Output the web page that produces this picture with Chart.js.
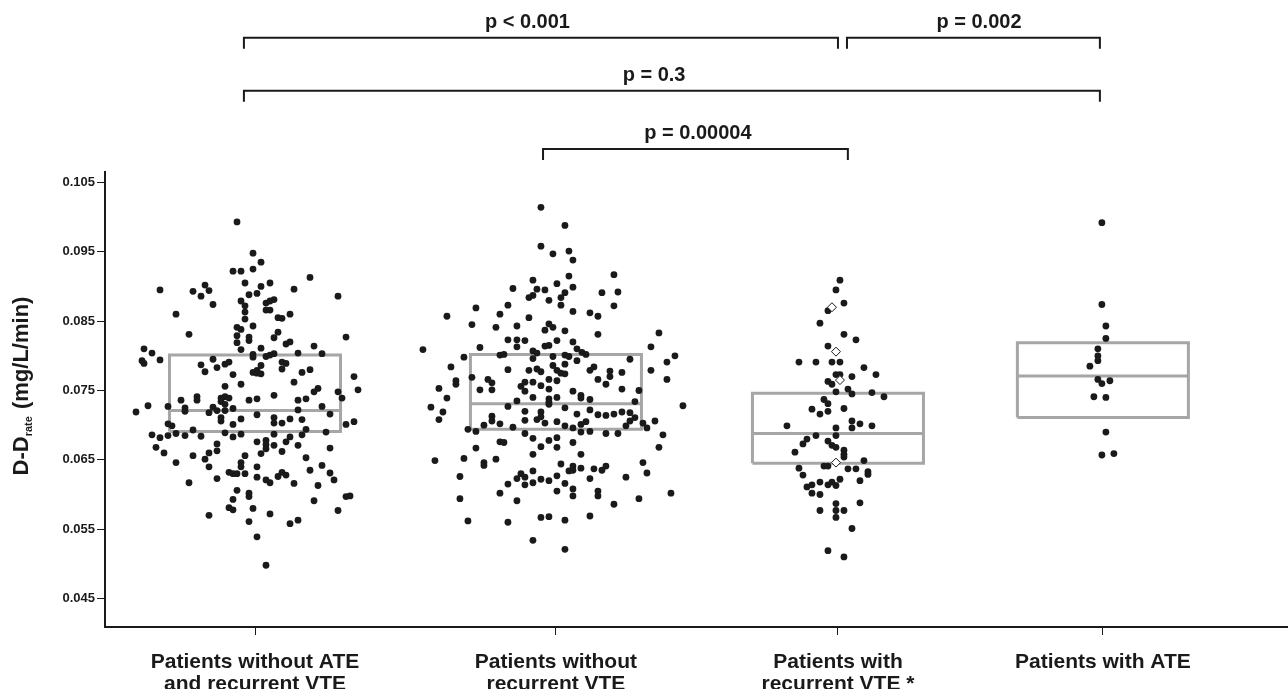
<!DOCTYPE html>
<html>
<head>
<meta charset="utf-8">
<script src="https://cdn.jsdelivr.net/npm/chart.js@4.4.1/dist/chart.umd.min.js"></script>
<style>
  html, body { margin: 0; padding: 0; background: #fff; }
</style>
</head>
<body>
<canvas id="chart" width="1288" height="689"></canvas>
<script>
// categories and where they sit on the (linear) x axis
const categories = [
  ["Patients without ATE", "and recurrent VTE"],
  ["Patients without", "recurrent VTE"],
  ["Patients with", "recurrent VTE *"],
  "Patients with ATE"
];
const catPos = [0.997, 2, 2.94, 3.823];
const yTicks = [0.045, 0.055, 0.065, 0.075, 0.085, 0.095, 0.105];

// box summaries (Q1 / median / Q3) per group
const boxQ1 = [0.0691, 0.0694, 0.0645, 0.0711];
const boxMed = [0.0721, 0.0731, 0.0688, 0.0771];
const boxQ3 = [0.0801, 0.0802, 0.0746, 0.0819];

// points: [jitter, D-D rate]; jitter is in 1/300 of a category step
const grp1 = [
  [-18,0.0993],[-2,0.0948],[6,0.0935],[-22,0.0922],[-14,0.0922],[-2,0.0925],[-10,0.0905],[6,0.0900],[15,0.0905],[-50,0.0902],
  [-46,0.0894],[-54,0.0886],[-62,0.0893],[-95,0.0895],[55,0.0913],[39,0.0896],[83,0.0886],[-6,0.0888],[2,0.0890],[-42,0.0874],
  [-14,0.0879],[-10,0.0872],[-10,0.0863],[-10,0.0853],[11,0.0876],[15,0.0879],[19,0.0881],[11,0.0866],[15,0.0866],[23,0.0855],
  [27,0.0854],[35,0.0860],[-79,0.0860],[-2,0.0843],[-18,0.0841],[-14,0.0838],[23,0.0834],[-66,0.0831],[-18,0.0829],[-6,0.0827],
  [-6,0.0822],[19,0.0826],[91,0.0827],[-18,0.0819],[31,0.0817],[35,0.0820],[-14,0.0809],[6,0.0811],[59,0.0814],[-111,0.0810],
  [-103,0.0804],[43,0.0804],[67,0.0803],[-2,0.0802],[-2,0.0798],[11,0.0799],[15,0.0801],[19,0.0803],[-42,0.0795],[-95,0.0794],
  [-113,0.0793],[-111,0.0789],[-54,0.0787],[-50,0.0777],[-38,0.0783],[-30,0.0788],[-26,0.0791],[27,0.0791],[31,0.0789],[27,0.0781],
  [6,0.0786],[-2,0.0776],[2,0.0775],[6,0.0774],[2,0.0779],[-22,0.0773],[47,0.0776],[55,0.0780],[39,0.0762],[99,0.0770],
  [-30,0.0756],[-14,0.0759],[63,0.0753],[103,0.0751],[83,0.0748],[59,0.0748],[87,0.0739],[-58,0.0741],[-58,0.0736],[-74,0.0736],
  [-34,0.0739],[-30,0.0741],[-26,0.0739],[-34,0.0734],[-30,0.0730],[-6,0.0736],[2,0.0738],[19,0.0743],[43,0.0736],[51,0.0738],
  [-107,0.0728],[-87,0.0727],[-70,0.0725],[-70,0.0720],[-42,0.0726],[-38,0.0721],[-30,0.0721],[-22,0.0724],[-46,0.0718],[43,0.0722],
  [67,0.0727],[75,0.0716],[2,0.0715],[-34,0.0711],[-34,0.0706],[-14,0.0709],[19,0.0711],[19,0.0703],[27,0.0703],[35,0.0709],
  [47,0.0708],[-22,0.0701],[-87,0.0702],[-83,0.0699],[91,0.0701],[99,0.0705],[51,0.0694],[-62,0.0693],[71,0.0690],[-103,0.0686],
  [-95,0.0682],[-87,0.0685],[-79,0.0688],[-70,0.0685],[-54,0.0684],[-30,0.0689],[-22,0.0683],[-14,0.0687],[19,0.0687],[35,0.0683],
  [47,0.0686],[2,0.0676],[11,0.0678],[11,0.0672],[11,0.0666],[19,0.0671],[31,0.0676],[43,0.0671],[75,0.0667],[-38,0.0673],
  [-38,0.0663],[-46,0.0660],[-99,0.0668],[-91,0.0660],[-62,0.0656],[-50,0.0651],[-46,0.0640],[-79,0.0646],[-10,0.0656],[6,0.0659],
  [27,0.0662],[51,0.0653],[-14,0.0646],[-14,0.0640],[2,0.0640],[67,0.0642],[55,0.0635],[75,0.0631],[79,0.0621],[-26,0.0632],
  [-22,0.0630],[-18,0.0630],[-10,0.0630],[-38,0.0623],[2,0.0625],[11,0.0621],[15,0.0617],[23,0.0626],[27,0.0632],[31,0.0628],
  [39,0.0616],[-66,0.0617],[63,0.0613],[-18,0.0606],[-6,0.0602],[-6,0.0597],[-22,0.0593],[59,0.0591],[91,0.0597],[95,0.0598],
  [-26,0.0581],[-22,0.0578],[-2,0.0580],[83,0.0577],[-46,0.0570],[15,0.0572],[-6,0.0561],[35,0.0558],[43,0.0563],[2,0.0539],
  [11,0.0498],[-119,0.0719]
];
const grp2 = [
  [-15,0.1014],[9,0.0988],[-15,0.0958],[-3,0.0947],[13,0.0951],[17,0.0938],[13,0.0915],[-23,0.0909],[1,0.0904],[17,0.0899],
  [58,0.0917],[-43,0.0897],[-19,0.0896],[-11,0.0895],[9,0.0891],[5,0.0884],[46,0.0891],[62,0.0892],[-27,0.0884],[-23,0.0887],
  [-7,0.0880],[5,0.0873],[58,0.0872],[-80,0.0869],[-48,0.0873],[17,0.0864],[34,0.0862],[42,0.0857],[-109,0.0857],[-56,0.0860],
  [-27,0.0855],[-84,0.0845],[-60,0.0841],[-39,0.0843],[-7,0.0846],[-3,0.0841],[-11,0.0837],[9,0.0836],[42,0.0831],[103,0.0833],
  [-48,0.0823],[-39,0.0823],[-31,0.0822],[-39,0.0813],[-11,0.0814],[-7,0.0815],[1,0.0822],[17,0.0820],[21,0.0810],[26,0.0805],
  [30,0.0802],[-76,0.0812],[-133,0.0809],[95,0.0813],[-23,0.0807],[-19,0.0804],[-56,0.0801],[-52,0.0802],[-92,0.0798],[-3,0.0799],
  [9,0.0801],[13,0.0799],[-23,0.0796],[119,0.0800],[111,0.0791],[21,0.0793],[74,0.0795],[-105,0.0784],[-48,0.0780],[-27,0.0779],
  [-19,0.0781],[-15,0.0777],[-3,0.0786],[1,0.0779],[5,0.0775],[9,0.0774],[9,0.0788],[34,0.0779],[38,0.0784],[54,0.0778],
  [54,0.0770],[66,0.0776],[95,0.0779],[-84,0.0769],[-100,0.0764],[-100,0.0759],[-68,0.0766],[-64,0.0761],[-31,0.0762],[-23,0.0762],
  [-7,0.0766],[1,0.0764],[42,0.0766],[50,0.0759],[111,0.0766],[-117,0.0753],[-35,0.0756],[-15,0.0757],
  [-109,0.0739],[-125,0.0726],[-113,0.0719],[-117,0.0708],[-76,0.0751],[-64,0.0751],[-31,0.0749],[-7,0.0752],[17,0.0749],[25,0.0743],
  [25,0.0739],[34,0.0737],[66,0.0752],[83,0.0750],[-23,0.0740],[-7,0.0738],[-7,0.0733],[-7,0.0730],[1,0.0740],[-39,0.0735],
  [-48,0.0727],[9,0.0725],[79,0.0734],[127,0.0728],[-31,0.0720],[-15,0.0719],[-64,0.0713],[-64,0.0706],[-31,0.0707],[-19,0.0708],
  [-15,0.0712],[-11,0.0703],[1,0.0705],[21,0.0716],[34,0.0722],[42,0.0715],[50,0.0714],[58,0.0716],[66,0.0719],[74,0.0718],
  [74,0.0706],[79,0.0711],[-72,0.0700],[-56,0.0702],[-43,0.0697],[9,0.0699],[17,0.0696],[25,0.0701],[30,0.0705],[25,0.0690],
  [34,0.0691],[70,0.0699],[87,0.0703],[91,0.0696],[99,0.0706],[-88,0.0694],[-80,0.0691],[-31,0.0688],[-23,0.0681],[50,0.0688],
  [62,0.0688],[1,0.0682],[-7,0.0678],[107,0.0686],[-56,0.0676],[-52,0.0675],[17,0.0675],[-15,0.0669],[1,0.0668],[-80,0.0667],
  [103,0.0668],[-23,0.0658],[25,0.0658],[-121,0.0649],[-92,0.0652],[-72,0.0646],[-72,0.0642],[-60,0.0651],[5,0.0644],[17,0.0641],
  [13,0.0634],[17,0.0635],[25,0.0638],[38,0.0637],[46,0.0635],[50,0.0641],[87,0.0646],[91,0.0631],[-96,0.0626],[-35,0.0630],
  [-31,0.0625],[-39,0.0623],[-23,0.0634],[-48,0.0615],[-31,0.0614],[-23,0.0617],[-15,0.0622],[-7,0.0620],[1,0.0627],[9,0.0616],
  [17,0.0608],[17,0.0598],[1,0.0605],[34,0.0623],[70,0.0625],[42,0.0605],[42,0.0598],[-56,0.0602],[-96,0.0594],[-39,0.0591],
  [58,0.0586],[83,0.0594],[115,0.0602],[-88,0.0562],[-48,0.0560],[-15,0.0567],[-7,0.0568],[9,0.0563],[34,0.0569],[-23,0.0534],
  [9,0.0521]
];
const grp3 = [
  [2,0.0909],[-2,0.0895],[6,0.0876],[-10,0.0865],[-18,0.0847],[6,0.0831],[18,0.0823],[-10,0.0814],[-39,0.0791],[-22,0.0791],
  [-6,0.0791],[2,0.0791],[26,0.0783],[38,0.0773],[-2,0.0773],[2,0.0773],[14,0.0770],[-10,0.0763],[-6,0.0759],[10,0.0752],
  [-2,0.0748],[14,0.0745],[34,0.0747],[46,0.0741],[-14,0.0737],[-10,0.0731],[6,0.0724],[-26,0.0723],[-18,0.0716],[-10,0.0720],
  [14,0.0706],[14,0.0696],[22,0.0702],[-51,0.0699],[-2,0.0696],[-2,0.0685],[34,0.0699],[-22,0.0685],[-31,0.0680],[-35,0.0673],
  [-10,0.0677],[-6,0.0671],[-2,0.0668],[-43,0.0661],[6,0.0664],[6,0.0658],[6,0.0654],[26,0.0649],[-14,0.0641],[-10,0.0641],
  [-39,0.0638],[10,0.0637],[18,0.0637],[30,0.0633],[30,0.0629],[-35,0.0628],[2,0.0622],[22,0.0620],[-18,0.0618],[-10,0.0614],
  [-6,0.0618],[-2,0.0613],[-26,0.0614],[-31,0.0611],[-26,0.0602],[-18,0.0600],[22,0.0588],[-2,0.0587],[-2,0.0577],[-2,0.0567],
  [6,0.0577],[-18,0.0577],[14,0.0551],[-10,0.0519],[6,0.0510]
];
// open diamonds in the recurrent VTE group
const grp3Open = [[-6,0.0870],[-2,0.0806],[2,0.0765],[-2,0.0646]];
const grp4 = [
  [-1,0.0992],[-1,0.0874],[3,0.0843],[3,0.0825],[-5,0.0810],[-5,0.0800],[-5,0.0793],[-13,0.0785],
  [-5,0.0766],[-1,0.0760],[7,0.0764],[-9,0.0741],[3,0.0740],[3,0.0690],[-1,0.0657],[11,0.0659]
];

// significance brackets
const bracketFrom = [0.96, 2.97, 0.96, 1.957];
const bracketTo = [2.94, 3.813, 3.813, 2.973];
const bracketLevel = [0.12584, 0.12584, 0.1182, 0.10983];
const bracketText = ["p < 0.001", "p = 0.002", "p = 0.3", "p = 0.00004"];
const bracketTextX = [1.905, 3.41, 2.327, 2.473];

const FONT = '"Liberation Sans", Arial, Helvetica, sans-serif';
const INK = "#1a1a1a";
const BOX_GREY = "#a6a6a6";
const boxHalf = 0.285;

function toPoints(g, pairs) {
  return pairs.map(p => ({ x: catPos[g] + p[0] / 300, y: p[1] }));
}

function dotSet(g, pairs) {
  return {
    type: "scatter",
    data: toPoints(g, pairs),
    pointRadius: 3.4,
    pointHoverRadius: 3.4,
    backgroundColor: INK,
    borderWidth: 0,
    order: 1
  };
}

function boxSets(i) {
  const l = catPos[i] - boxHalf;
  const r = catPos[i] + boxHalf;
  const common = {
    type: "line",
    borderColor: BOX_GREY,
    borderWidth: 3,
    pointRadius: 0,
    fill: false,
    tension: 0,
    order: 2
  };
  return [
    Object.assign({}, common, {
      data: [
        { x: l, y: boxQ1[i] }, { x: r, y: boxQ1[i] }, { x: r, y: boxQ3[i] },
        { x: l, y: boxQ3[i] }, { x: l, y: boxQ1[i] }
      ]
    }),
    Object.assign({}, common, {
      data: [{ x: l, y: boxMed[i] }, { x: r, y: boxMed[i] }]
    })
  ];
}

const yTitlePlugin = {
  id: "yTitle",
  afterDraw(chart) {
    const ctx = chart.ctx;
    const big = "bold 22px " + FONT;
    const small = "bold 11px " + FONT;
    ctx.save();
    ctx.fillStyle = INK;
    ctx.textBaseline = "middle";
    ctx.textAlign = "left";
    ctx.font = big;
    const w1 = ctx.measureText("D-D").width;
    const w3 = ctx.measureText(" (mg/L/min)").width;
    ctx.font = small;
    const w2 = ctx.measureText("rate").width + 1;
    const total = w1 + w2 + w3;
    ctx.translate(22, 386);
    ctx.rotate(-Math.PI / 2);
    let x = -total / 2;
    ctx.font = big;
    ctx.fillText("D-D", x, 0);
    x += w1;
    ctx.font = small;
    ctx.fillText("rate", x, 7);
    x += w2;
    ctx.font = big;
    ctx.fillText(" (mg/L/min)", x, 0);
    ctx.restore();
  }
};

const bracketPlugin = {
  id: "brackets",
  afterDraw(chart) {
    const ctx = chart.ctx;
    const xs = chart.scales.x;
    const ys = chart.scales.y;
    ctx.save();
    ctx.strokeStyle = INK;
    ctx.lineWidth = 2;
    ctx.fillStyle = INK;
    ctx.font = "bold 20px " + FONT;
    ctx.textAlign = "center";
    ctx.textBaseline = "middle";
    bracketText.forEach((txt, i) => {
      const x1 = xs.getPixelForValue(bracketFrom[i]);
      const x2 = xs.getPixelForValue(bracketTo[i]);
      const y = ys.getPixelForValue(bracketLevel[i]);
      ctx.beginPath();
      ctx.moveTo(x1, y + 11);
      ctx.lineTo(x1, y);
      ctx.lineTo(x2, y);
      ctx.lineTo(x2, y + 11);
      ctx.stroke();
      ctx.fillText(txt, xs.getPixelForValue(bracketTextX[i]), y - 15);
    });
    ctx.restore();
  }
};

const datasets = [
  {
    type: "scatter",
    data: toPoints(2, grp3Open),
    pointStyle: "rectRot",
    pointRadius: 4.5,
    pointHoverRadius: 4.5,
    backgroundColor: "#ffffff",
    borderColor: INK,
    borderWidth: 1,
    order: 0
  },
  dotSet(0, grp1),
  dotSet(1, grp2),
  dotSet(2, grp3),
  dotSet(3, grp4)
];
for (let i = 0; i < 4; i++) datasets.push(...boxSets(i));

new Chart(document.getElementById("chart"), {
  type: "scatter",
  data: { datasets },
  options: {
    responsive: false,
    animation: false,
    events: [],
    layout: { autoPadding: false, padding: { top: 172, left: 0, right: 0, bottom: 0 } },
    plugins: {
      legend: { display: false },
      tooltip: { enabled: false }
    },
    scales: {
      x: {
        type: "linear",
        min: 0.497,
        max: 4.44,
        afterBuildTicks: scale => {
          scale.ticks = catPos.map(v => ({ value: v }));
        },
        afterFit: scale => {
          scale.height = 62;
          scale.paddingLeft = 0;
          scale.paddingRight = 0;
        },
        ticks: {
          autoSkip: false,
          maxRotation: 0,
          padding: 16,
          color: INK,
          font: { family: FONT, size: 21, weight: "bold", lineHeight: 1.05 },
          callback: (value, index) => categories[index]
        },
        grid: {
          drawOnChartArea: false,
          drawTicks: true,
          tickLength: 8,
          color: INK,
          lineWidth: 1
        },
        border: { display: true, color: INK, width: 2 }
      },
      y: {
        type: "linear",
        min: 0.0409,
        max: 0.1065,
        afterBuildTicks: scale => {
          scale.ticks = yTicks.map(v => ({ value: v }));
        },
        afterFit: scale => { scale.width = 105; },
        ticks: {
          padding: 2,
          color: INK,
          font: { family: FONT, size: 13, weight: "bold" },
          callback: value => Number(value).toFixed(3)
        },
        grid: {
          drawOnChartArea: false,
          drawTicks: true,
          tickLength: 8,
          color: INK,
          lineWidth: 1
        },
        border: { display: true, color: INK, width: 2 }
      }
    }
  },
  plugins: [yTitlePlugin, bracketPlugin]
});
</script>
</body>
</html>
